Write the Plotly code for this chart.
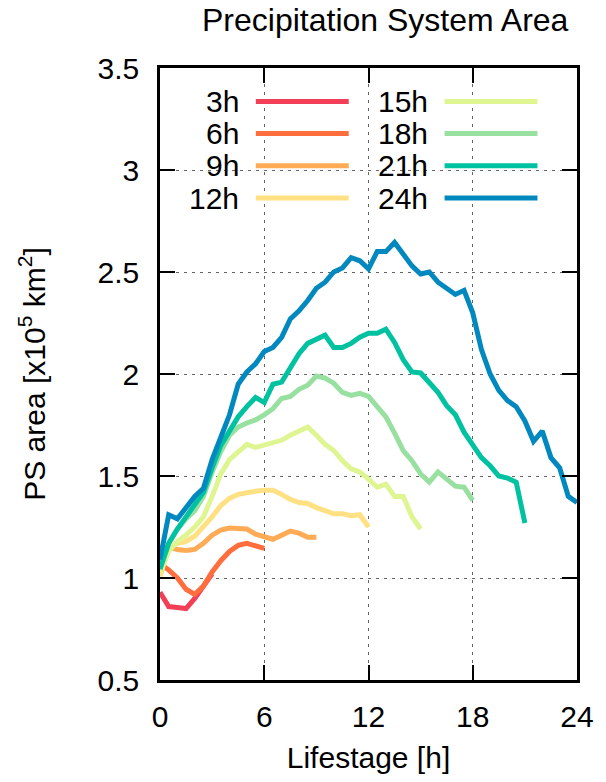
import plotly.graph_objects as go

# ---- data ----
LIFESTAGE = [0, 0.5, 1, 1.5, 2, 2.5, 3, 3.5, 4, 4.5, 5, 5.5, 6, 6.5, 7, 7.5, 8, 8.5,
             9, 9.5, 10, 10.5, 11, 11.5, 12, 12.5, 13, 13.5, 14, 14.5, 15, 15.5,
             16, 16.5, 17, 17.5, 18, 18.5, 19, 19.5, 20, 20.5, 21, 21.5, 22, 22.5,
             23, 23.5, 24]

LABELS = ["3h", "6h", "9h", "12h", "15h", "18h", "21h", "24h"]

ps_3h = [0.93, 0.86, 0.855, 0.85, 0.90, 0.96, 1.02]
ps_6h = [1.07, 1.04, 1.00, 0.945, 0.92, 0.96, 1.03, 1.085, 1.13, 1.16, 1.17, 1.16, 1.145]
ps_9h = [1.01, 1.15, 1.14, 1.135, 1.14, 1.17, 1.21, 1.235, 1.245, 1.24, 1.24, 1.215,
         1.20, 1.19, 1.21, 1.23, 1.22, 1.20, 1.20]
ps_12h = [1.01, 1.15, 1.17, 1.18, 1.205, 1.25, 1.30, 1.355, 1.39, 1.41, 1.42, 1.425,
          1.43, 1.43, 1.41, 1.385, 1.37, 1.365, 1.345, 1.33, 1.315, 1.315, 1.305,
          1.31, 1.25]
ps_15h = [1.03, 1.13, 1.18, 1.21, 1.25, 1.30, 1.40, 1.51, 1.58, 1.62, 1.655, 1.64,
          1.65, 1.66, 1.675, 1.70, 1.72, 1.74, 1.70, 1.655, 1.625, 1.575, 1.535,
          1.52, 1.485, 1.445, 1.46, 1.40, 1.40, 1.30, 1.24]
ps_18h = [1.04, 1.17, 1.24, 1.29, 1.33, 1.40, 1.52, 1.62, 1.70, 1.74, 1.76, 1.775,
          1.80, 1.83, 1.88, 1.89, 1.925, 1.945, 1.99, 1.98, 1.955, 1.91, 1.895,
          1.905, 1.89, 1.84, 1.79, 1.71, 1.625, 1.575, 1.51, 1.47, 1.52, 1.485,
          1.45, 1.445, 1.38]
ps_21h = [1.045, 1.17, 1.24, 1.30, 1.35, 1.42, 1.54, 1.65, 1.72, 1.79, 1.84, 1.885,
          1.86, 1.95, 1.96, 2.03, 2.10, 2.15, 2.17, 2.19, 2.13, 2.13, 2.15, 2.18,
          2.20, 2.20, 2.22, 2.155, 2.07, 2.01, 2.005, 1.96, 1.91, 1.845, 1.80,
          1.715, 1.65, 1.59, 1.55, 1.50, 1.49, 1.47, 1.27]
ps_24h = [1.09, 1.31, 1.29, 1.35, 1.40, 1.44, 1.58, 1.69, 1.80, 1.95, 2.01, 2.05,
          2.11, 2.13, 2.18, 2.27, 2.31, 2.36, 2.42, 2.45, 2.50, 2.52, 2.57, 2.555,
          2.515, 2.60, 2.60, 2.645, 2.59, 2.53, 2.49, 2.50, 2.45, 2.42, 2.39, 2.41,
          2.30, 2.12, 2.00, 1.92, 1.87, 1.84, 1.77, 1.67, 1.72, 1.59, 1.54, 1.40,
          1.37]

SERIES = [ps_3h, ps_6h, ps_9h, ps_12h, ps_15h, ps_18h, ps_21h, ps_24h]

X_TICKS = [0, 6, 12, 18, 24]
Y_TICKS = [0.5, 1, 1.5, 2, 2.5, 3, 3.5]
Y_TICKTEXT = ["0.5", "1", "1.5", "2", "2.5", "3", "3.5"]

# ---- styles ----
COLORS = ["#f23f57", "#ff6e3c", "#ffab55", "#ffe082",
          "#dff592", "#97e0a0", "#00c2a0", "#0088bf"]
FONT = "Liberation Sans, Arial, sans-serif"
LW = 5

fig = go.Figure()
for lab, vals, col in zip(LABELS, SERIES, COLORS):
    fig.add_trace(go.Scatter(
        x=LIFESTAGE[:len(vals)], y=vals, mode="lines", name=lab,
        line=dict(color=col, width=LW), showlegend=False))

# ---- custom legend (text left of line, two columns) ----
W_PLOT, H_PLOT, L, T = 422, 613, 160, 68
def px_x(px):
    return (px - L) / W_PLOT
def px_y(py):
    return (T + H_PLOT - py) / H_PLOT

shapes = [dict(type="rect", xref="paper", yref="paper",
               x0=px_x(177), x1=px_x(562), y0=px_y(214), y1=px_y(74),
               fillcolor="white", line=dict(width=0), layer="between")]
annotations = []
row_y = [101.5, 133.5, 166, 198.3]
col_text_right = [242, 433]
col_line = [(257, 351), (448, 542)]
for i, (lab, col) in enumerate(zip(LABELS, COLORS)):
    c, r = divmod(i, 4)
    yy = px_y(row_y[r])
    annotations.append(dict(xref="paper", yref="paper", x=px_x(col_text_right[c]), y=yy,
                            text=lab, showarrow=False, xanchor="right", yanchor="middle",
                            font=dict(size=30, family=FONT, color="black")))
    shapes.append(dict(type="line", xref="paper", yref="paper",
                       x0=px_x(col_line[c][0]), x1=px_x(col_line[c][1]), y0=yy, y1=yy,
                       line=dict(color=col, width=5), layer="above"))

axis_common = dict(
    showline=True, linecolor="black", linewidth=2.5, mirror="ticks",
    ticks="inside", ticklen=15, tickwidth=2, tickcolor="black",
    showgrid=True, gridcolor="#666666", gridwidth=1.4, griddash="3px,5px",
    zeroline=False, tickfont=dict(size=30, family=FONT, color="black"),
)

fig.update_layout(
    width=606, height=782,
    margin=dict(l=160, r=24, t=68, b=101, pad=0),
    paper_bgcolor="white", plot_bgcolor="white",
    title=dict(text="Precipitation System Area", x=0.54, xref="paper", xanchor="center",
               y=0.975, yref="container", yanchor="middle",
               font=dict(size=32, family=FONT, color="black")),
    xaxis=dict(range=[0, 24], tickvals=X_TICKS, ticklabelstandoff=8,
               title=dict(text="Lifestage [h]", standoff=16,
                          font=dict(size=30, family=FONT, color="black")),
               **axis_common),
    yaxis=dict(range=[0.5, 3.5], tickvals=Y_TICKS, ticktext=Y_TICKTEXT,
               ticklabelstandoff=12,
               title=dict(text="PS area [x10<sup>5</sup> km<sup>2</sup>]", standoff=44,
                          font=dict(size=30, family=FONT, color="black")),
               **axis_common),
    shapes=shapes, annotations=annotations,
)

fig.write_html("out.html")
